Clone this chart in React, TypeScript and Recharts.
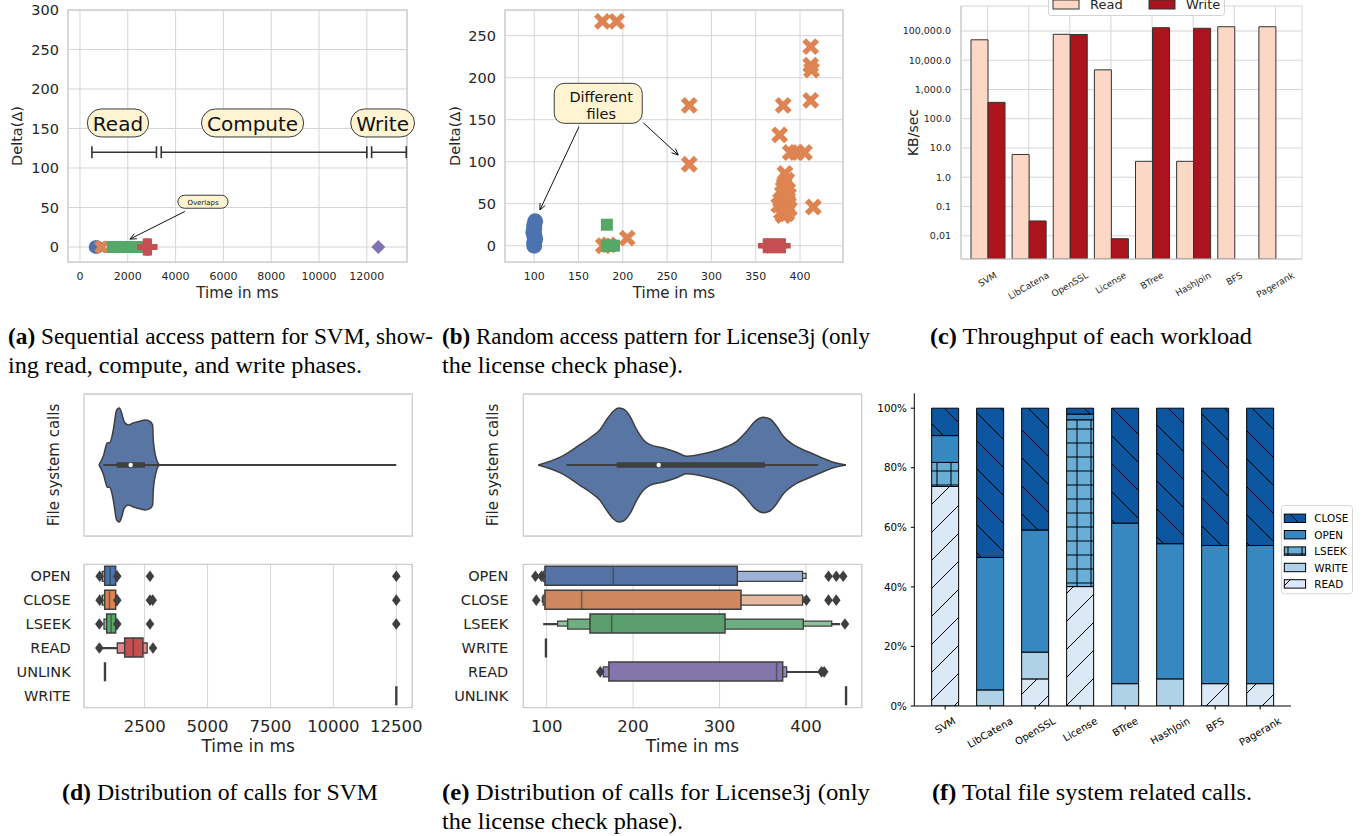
import React from "react";
import {
  ScatterChart,
  Scatter,
  ComposedChart,
  BarChart,
  Bar,
  Area,
  Cell,
  XAxis,
  YAxis,
  CartesianGrid,
  ReferenceLine,
  ReferenceDot,
  ReferenceArea,
  Legend,
} from "recharts";

const FONT = "DejaVu Sans";
const SERIF = "Liberation Serif";
const INK = "#262626";
const GRID = "#d5d5d5";
const SPINE = "#cccccc";
const EDGE = "#3f3f3f";
const NOTE_FILL = "#fff4d2";

const BLUE = "#4c72b0";
const ORANGE = "#dd8452";
const GREEN = "#55a868";
const RED = "#c44e52";
const PURPLE = "#8172b3";
const VIOLIN = "#5875a4";

// (a) sequential access, SVM  [time ms, delta]
const svmOpenPts = [[650, 0], [715, 0]];
const svmClosePts = [[860, 0], [935, 0]];
const svmLseekPts = [[1370, 0], [1500, 0], [1650, 0], [1800, 0], [1950, 0], [2100, 0], [2250, 0], [2400, 0]];
const svmReadPts = [[2750, 0], [2820, 0], [2890, 0]];
const svmWritePts = [[12480, 0]];
const svmTimeTicks = [0, 2000, 4000, 6000, 8000, 10000, 12000];
const svmDeltaTicks = [0, 50, 100, 150, 200, 250, 300];
const svmPhaseNames = ["Read", "Compute", "Write"];
const svmPhaseStart = [500, 3400, 12200];
const svmPhaseEnd = [3200, 12000, 13650];
const svmPhaseLabelAt = [1590, 7220, 12660];

// (b) random access, License3j
const licOpenPts = [[100, 0], [100, 4], [101, 8], [100, 12], [99, 16], [100, 20], [100, 24], [101, 29]];
const licClosePts = [
  [177, 267], [193, 267], [178, 0], [184, 1], [205, 9], [275, 167], [275, 97],
  [381, 167], [377, 132], [389, 111], [396, 111], [405, 111], [412, 237], [412, 215],
  [413, 209], [412, 173], [415, 46], [383, 86], [385, 78], [382, 72], [386, 66],
  [380, 62], [384, 58], [378, 54], [386, 52], [376, 48], [383, 46], [388, 44],
  [379, 40], [385, 38], [381, 36], [387, 60], [381, 68],
];
const licLseekPts = [[182, 25], [182, 0], [186, 0], [190, 0]];
const licReadPts = [[361, 0], [365, 0], [369, 0], [373, 0], [377, 0], [381, 0]];
const licTimeTicks = [100, 150, 200, 250, 300, 350, 400];
const licDeltaTicks = [0, 50, 100, 150, 200, 250];

// (c) throughput
const workloads = ["SVM", "LibCatena", "OpenSSL", "License", "BTree", "HashJoin", "BFS", "Pagerank"];
const readKBs = [50000, 6.0, 77000, 4700, 3.5, 3.5, 140000, 140000];
const writeKBs = [363, 0.032, 76000, 0.0079, 130000, 124000, null, null];
const kbTicks = [0.01, 0.1, 1, 10, 100, 1000, 10000, 100000];
const kbTickLabels = ["0,01", "0.1", "1.0", "10.0", "100.0", "1,000.0", "10,000.0", "100,000.0"];

// (d) SVM call distribution
const svmViolin = [
  [684, 0], [855, 8.7], [1014, 22], [1121, 22.7], [1253, 35], [1387, 55], [1491, 57],
  [1586, 52], [1678, 43.7], [1848, 40], [2047, 42], [2313, 43.7], [2512, 45],
  [2711, 43.7], [2817, 40], [2842, 25], [2977, 5], [3080, 0],
];
const svmIqr = [1387, 2512];
const svmRange = [855, 12500];
const svmMedian = 1944;
const svmCalls = ["OPEN", "CLOSE", "LSEEK", "READ", "UNLINK", "WRITE"];
const svmMain = [[911, 1348], [911, 1348], [990, 1348], [1705, 2432], null, null];
const svmOuter = [[816, 1400], [816, 1400], [883, 1400], [1411, 2600], null, null];
const svmWhisk = [null, null, null, [700, 1411], null, null];
const svmMedians = [1130, 1100, 1170, 2047, null, null];
const svmSingles = [null, null, null, null, 923, 12500];
const svmFliers = [[712, 1411, 2711, 12500], [712, 1411, 2711, 2820, 12500], [700, 1411, 2711, 12500], [700, 2830], [], []];
const svmCallTicks = [2500, 5000, 7500, 10000, 12500];

// (e) License3j call distribution
const licViolin = [
  [90.3, 0], [119.3, 9.3], [138.5, 20.3], [150.1, 27], [161.7, 35.3], [169.4, 45.3],
  [177.1, 53.7], [182.9, 57], [188.7, 56], [196.4, 48.7], [204.1, 35.3], [211.8, 25.3],
  [219.5, 20.3], [234.9, 17], [250.4, 12.7], [261.9, 8.7], [285.1, 12], [304.3, 17],
  [319.8, 23.7], [331.3, 33.7], [341, 43.7], [350.6, 47.7], [358.3, 46], [366, 38.7],
  [373.8, 28.7], [385.3, 20.3], [400.8, 13.7], [416.2, 8], [431.6, 2.7], [446.3, 0],
];
const licIqr = [181, 352.5];
const licRange = [123, 414];
const licMedian = 229.6;
const licCalls = ["OPEN", "CLOSE", "LSEEK", "WRITE", "READ", "UNLINK"];
const licMain = [[98, 320.5], [98, 324.8], [150.1, 306.3], null, [172, 373], null];
const licOuter = [[96, 396], [96, 396], [124.3, 396.9], null, [165.5, 377.6], null];
const licOuter2 = [[95, 400], [95, 399], [112.7, 429.7], null, null, null];
const licWhisk = [null, null, [96, 439.3], null, [377.6, 418], null];
const licMedians = [177, 140.5, 175.2, null, 366, null];
const licSingles = [null, null, null, 99.2, null, 446.3];
const licFliers = [[87, 94, 426, 435, 443], [88, 400.5, 426, 435], [445], [], [162, 418, 421], []];
const licCallTicks = [100, 200, 300, 400];

// (f) share of file system calls (%)
const fsRead = [73.7, 0, 9.1, 40.1, 0, 0, 7.5, 7.5];
const fsWrite = [0, 5.4, 9.0, 0, 7.5, 9.1, 0, 0];
const fsLseek = [8.1, 0, 0, 56.0, 0, 0, 0, 0];
const fsOpen = [9.0, 44.5, 41.0, 1.9, 53.9, 45.4, 46.4, 46.4];
const fsClose = [9.2, 50.1, 40.9, 2.0, 38.6, 45.5, 46.1, 46.1];
const pctTicks = [0, 20, 40, 60, 80, 100];

const toPts = (pairs: number[][]) => pairs.map(([t, d]) => ({ t, d }));

let measureCtx: any = null;
function textWidth(s: string, size: number, family = FONT) {
  if (!measureCtx && typeof document !== "undefined") {
    measureCtx = document.createElement("canvas").getContext("2d");
  }
  if (!measureCtx) return s.length * size * 0.6;
  measureCtx.font = `${size}px "${family}"`;
  return measureCtx.measureText(s).width;
}

// marker shapes
const dotShape = (r: number, fill: string) => (p: any) => <circle cx={p.cx} cy={p.cy} r={r} fill={fill} />;
const xShape = (h: number, w: number, color: string) => (p: any) => (
  <path
    d={`M${p.cx - h},${p.cy - h}L${p.cx + h},${p.cy + h}M${p.cx - h},${p.cy + h}L${p.cx + h},${p.cy - h}`}
    stroke={color}
    strokeWidth={w}
    fill="none"
  />
);
const squareShape = (s: number, fill: string) => (p: any) => (
  <rect x={p.cx - s / 2} y={p.cy - s / 2} width={s} height={s} fill={fill} />
);
const plusShape = (h: number, w: number, color: string) => (p: any) => (
  <path d={`M${p.cx - h},${p.cy}L${p.cx + h},${p.cy}M${p.cx},${p.cy - h}L${p.cx},${p.cy + h}`} stroke={color} strokeWidth={w} />
);
const diamondShape = (hw: number, hh: number, fill: string) => (p: any) => (
  <polygon points={`${p.cx},${p.cy - hh} ${p.cx + hw},${p.cy} ${p.cx},${p.cy + hh} ${p.cx - hw},${p.cy}`} fill={fill} />
);
const vlineShape = (h: number, w: number, color: string, opacity = 1) => (p: any) => (
  <line x1={p.cx} x2={p.cx} y1={p.cy - h / 2} y2={p.cy + h / 2} stroke={color} strokeWidth={w} strokeOpacity={opacity} />
);

// annotation shapes
const pillShape = (text: string, fs: number, h: number, pad: number) => (p: any) => {
  const w = textWidth(text, fs) + pad;
  return (
    <g>
      <rect x={p.cx - w / 2} y={p.cy - h / 2} width={w} height={h} rx={h / 2} ry={h / 2} fill={NOTE_FILL} stroke="#3a3a3a" strokeWidth={1} />
      <text x={p.cx} y={p.cy + 1} textAnchor="middle" dominantBaseline="central" fontSize={fs} fontFamily={FONT} fill="#111">
        {text}
      </text>
    </g>
  );
};
const noteShape = (lines: string[], fs: number, w: number, h: number) => (p: any) => (
  <g>
    <rect x={p.cx - w / 2} y={p.cy - h / 2} width={w} height={h} rx={10} ry={10} fill={NOTE_FILL} stroke="#3a3a3a" strokeWidth={1} />
    {lines.map((ln, i) => (
      <text
        key={ln}
        x={p.cx + 3}
        y={p.cy + 2 + (i - (lines.length - 1) / 2) * fs * 1.2}
        textAnchor="middle"
        dominantBaseline="central"
        fontSize={fs}
        fontFamily={FONT}
        fill="#111"
      >
        {ln}
      </text>
    ))}
  </g>
);
const bracketShape = (p: any) => {
  const { x1, y1, x2, y2 } = p;
  return (
    <g stroke="#333" strokeWidth={1.6}>
      <line x1={x1} y1={y1} x2={x2} y2={y2} />
      <line x1={x1} x2={x1} y1={y1 - 6} y2={y1 + 6} />
      <line x1={x2} x2={x2} y1={y2 - 6} y2={y2 + 6} />
    </g>
  );
};
const arrowShape = (p: any) => {
  const { x1, y1, x2, y2 } = p;
  const ang = Math.atan2(y2 - y1, x2 - x1);
  const L = 7;
  const s = 0.42;
  const ax = x2 - L * Math.cos(ang - s);
  const ay = y2 - L * Math.sin(ang - s);
  const bx = x2 - L * Math.cos(ang + s);
  const by = y2 - L * Math.sin(ang + s);
  return (
    <g stroke="#111" strokeWidth={1} fill="none">
      <line x1={x1} y1={y1} x2={x2} y2={y2} />
      <path d={`M${ax},${ay}L${x2},${y2}L${bx},${by}`} />
    </g>
  );
};

const xTitle = (text: string, dy: number, fs: number) => (p: any) => {
  const vb = p.viewBox || { x: 0, y: 0, width: 0, height: 0 };
  return (
    <text x={vb.x + vb.width / 2} y={vb.y + dy} textAnchor="middle" dominantBaseline="central" fontSize={fs} fontFamily={FONT} fill={INK}>
      {text}
    </text>
  );
};
const yTitle = (text: string, dx: number, fs: number) => (p: any) => {
  const vb = p.viewBox || { x: 0, y: 0, width: 0, height: 0 };
  const cx = vb.x + dx;
  const cy = vb.y + vb.height / 2;
  return (
    <text x={cx} y={cy} transform={`rotate(-90 ${cx} ${cy})`} textAnchor="middle" dominantBaseline="central" fontSize={fs} fontFamily={FONT} fill={INK}>
      {text}
    </text>
  );
};
const slantTick = (fs: number, color: string) => (p: any) => {
  const label = String(p.payload?.value ?? "");
  const w = textWidth(label, fs);
  const a = Math.PI / 6;
  const bh = w * Math.sin(a) + fs * 1.15 * Math.cos(a);
  const cx = p.x;
  const cy = p.y + bh / 2;
  return (
    <text x={cx} y={cy} transform={`rotate(-30 ${cx} ${cy})`} textAnchor="middle" dominantBaseline="central" fontSize={fs} fontFamily={FONT} fill={color}>
      {label}
    </text>
  );
};

const tickStyle = (fs: number, fill = INK) => ({ fontSize: fs, fill, fontFamily: FONT });

function PanelA() {
  return (
    <ScatterChart width={420} height={312} margin={{ top: 10, right: 13, bottom: 0, left: 0 }}>
      <CartesianGrid stroke={GRID} />
      <XAxis type="number" dataKey="t" domain={[-500, 13680]} allowDataOverflow ticks={svmTimeTicks} tick={tickStyle(11)} tickLine={false} axisLine={false} tickMargin={4} height={50} label={xTitle("Time in ms", 31, 15)} />
      <YAxis type="number" dataKey="d" domain={[-19, 300]} allowDataOverflow ticks={svmDeltaTicks} tick={tickStyle(14.5)} tickLine={false} axisLine={false} tickMargin={3} width={68} label={yTitle("Delta(Δ)", 17, 14.5)} />
      <ReferenceArea x1={-500} x2={13680} y1={-19} y2={300} fill="none" fillOpacity={0} stroke={SPINE} strokeWidth={1.25} ifOverflow="visible" />
      <Scatter data={toPts(svmOpenPts)} shape={dotShape(6.8, BLUE)} isAnimationActive={false} />
      <Scatter data={toPts(svmClosePts)} shape={xShape(5, 4, ORANGE)} isAnimationActive={false} />
      <Scatter data={toPts(svmLseekPts)} shape={squareShape(12, GREEN)} isAnimationActive={false} />
      <Scatter data={toPts(svmReadPts)} shape={plusShape(8.5, 6, RED)} isAnimationActive={false} />
      <Scatter data={toPts(svmWritePts)} shape={diamondShape(7, 7, PURPLE)} isAnimationActive={false} />
      {svmPhaseNames.map((n, i) => (
        <ReferenceLine key={`b${n}`} segment={[{ x: svmPhaseStart[i], y: 120 }, { x: svmPhaseEnd[i], y: 120 }]} shape={bracketShape} />
      ))}
      {svmPhaseNames.map((n, i) => (
        <ReferenceDot key={`l${n}`} x={svmPhaseLabelAt[i]} y={157} r={1} shape={pillShape(n, 20, 28, 11)} />
      ))}
      <ReferenceLine segment={[{ x: 4390, y: 45 }, { x: 2090, y: 10 }]} shape={arrowShape} />
      <ReferenceDot x={5146} y={57.3} r={1} shape={pillShape("Overlaps", 7, 13, 19)} />
    </ScatterChart>
  );
}

function PanelB() {
  return (
    <ScatterChart width={430} height={312} margin={{ top: 10, right: 17, bottom: 0, left: 0 }}>
      <CartesianGrid stroke={GRID} />
      <XAxis type="number" dataKey="t" domain={[67, 448.5]} allowDataOverflow ticks={licTimeTicks} tick={tickStyle(11)} tickLine={false} axisLine={false} tickMargin={4} height={50} label={xTitle("Time in ms", 31, 15)} />
      <YAxis type="number" dataKey="d" domain={[-19.4, 280.6]} allowDataOverflow ticks={licDeltaTicks} tick={tickStyle(14.5)} tickLine={false} axisLine={false} tickMargin={3} width={75} label={yTitle("Delta(Δ)", 25, 14.5)} />
      <ReferenceArea x1={67} x2={448.5} y1={-19.4} y2={280.6} fill="none" fillOpacity={0} stroke={SPINE} strokeWidth={1.25} ifOverflow="visible" />
      <Scatter data={toPts(licOpenPts)} shape={dotShape(8, BLUE)} isAnimationActive={false} />
      <Scatter data={toPts(licClosePts)} shape={xShape(6.5, 5.5, ORANGE)} isAnimationActive={false} />
      <Scatter data={toPts(licLseekPts)} shape={squareShape(12, GREEN)} isAnimationActive={false} />
      <Scatter data={toPts(licReadPts)} shape={plusShape(7.5, 5.5, RED)} isAnimationActive={false} />
      <ReferenceLine segment={[{ x: 150.5, y: 141.7 }, { x: 106.4, y: 42.5 }]} shape={arrowShape} />
      <ReferenceLine segment={[{ x: 223, y: 146.4 }, { x: 262.5, y: 108 }]} shape={arrowShape} />
      <ReferenceDot x={172.2} y={169.5} r={1} shape={noteShape(["Different", "files"], 14.5, 88, 40)} />
    </ScatterChart>
  );
}

const throughputLegend = () => (
  <svg width={177} height={28} style={{ display: "block", overflow: "visible" }}>
    <rect x={0.5} y={0.5} width={176} height={27} rx={3} fill="#fff" stroke="#d3d3d3" />
    <rect x={5} y={12} width={26} height={9} fill="#fdd7c6" stroke="#333" />
    <text x={42} y={21.3} fontSize={13} fontFamily={FONT} fill={INK}>Read</text>
    <rect x={101} y={12} width={26} height={9} fill="#ab141c" stroke="#333" />
    <text x={138} y={21.3} fontSize={13} fontFamily={FONT} fill={INK}>Write</text>
  </svg>
);

function PanelC() {
  const rows = workloads.map((w, i) => ({ name: w, read: readKBs[i], write: writeKBs[i] }));
  return (
    <BarChart width={450} height={310} data={rows} margin={{ top: 6, right: 18, bottom: 0, left: 0 }} barCategoryGap={4} barGap={0}>
      <CartesianGrid stroke={GRID} />
      <XAxis dataKey="name" padding={{ left: 6, right: 6 }} interval={0} height={51} tickLine={false} axisLine={{ stroke: SPINE, strokeWidth: 1.25 }} tickSize={6} tickMargin={5} tick={slantTick(9, INK)} />
      <XAxis xAxisId="top" orientation="top" type="number" domain={[0, 1]} height={0} tick={false} tickLine={false} axisLine={{ stroke: SPINE, strokeWidth: 1.25 }} />
      <YAxis scale="log" domain={[0.0016, 716000]} allowDataOverflow ticks={kbTicks} tickFormatter={(v: number) => kbTickLabels[kbTicks.indexOf(v)] ?? String(v)} tick={tickStyle(9.5)} tickLine={false} axisLine={{ stroke: SPINE, strokeWidth: 1.25 }} tickMargin={4} width={91} label={yTitle("KB/sec", 42.7, 14)} />
      <YAxis yAxisId="right" orientation="right" domain={[0, 1]} width={0} tick={false} tickLine={false} axisLine={{ stroke: SPINE, strokeWidth: 1.25 }} />
      <Bar dataKey="read" name="Read" fill="#fdd7c6" stroke="#333" strokeWidth={1} isAnimationActive={false} />
      <Bar dataKey="write" name="Write" fill="#ab141c" stroke="#333" strokeWidth={1} isAnimationActive={false} />
      <Legend layout="vertical" align="center" verticalAlign="middle" wrapperStyle={{ left: 178, top: -12, width: 177, height: 28 }} content={throughputLegend} />
    </BarChart>
  );
}

function ViolinPanel(props: any) {
  const { data, domain, iqr, range, median, width, yAxisWidth, rightMargin, titleX } = props;
  const rows = data.map(([t, w]: number[]) => ({ t, w }));
  return (
    <ComposedChart width={width} height={160} data={rows} margin={{ top: 14, right: rightMargin, bottom: 4, left: 0 }}>
      <CartesianGrid vertical={false} stroke={GRID} />
      <XAxis type="number" dataKey="t" domain={domain} allowDataOverflow hide />
      <YAxis type="number" domain={[-71, 71]} allowDataOverflow ticks={[0]} tick={false} tickLine={false} axisLine={false} width={yAxisWidth} label={yTitle("File system calls", titleX, 15)} />
      <ReferenceArea x1={domain[0]} x2={domain[1]} y1={-71} y2={71} fill="none" fillOpacity={0} stroke={SPINE} strokeWidth={1.25} ifOverflow="visible" />
      <Area type="monotone" dataKey={(r: any) => [-r.w, r.w]} fill={VIOLIN} fillOpacity={1} stroke={EDGE} strokeWidth={1.5} dot={false} activeDot={false} isAnimationActive={false} />
      <ReferenceLine segment={[{ x: range[0], y: 0 }, { x: range[1], y: 0 }]} stroke={EDGE} strokeWidth={2} />
      <ReferenceLine segment={[{ x: iqr[0], y: 0 }, { x: iqr[1], y: 0 }]} stroke={EDGE} strokeWidth={5.5} />
      <ReferenceDot x={median} y={0} r={2.2} fill="#fff" stroke="none" />
    </ComposedChart>
  );
}

function BoxenPanel(props: any) {
  const { calls, main, outer, outer2, whisk, medians, singles, fliers, colors, domain, ticks, width, yAxisWidth, rightMargin, labelMargin } = props;
  const rows = calls.map((c: string, i: number) => ({
    call: c,
    main: main[i],
    outer: outer[i],
    outer2: outer2 ? outer2[i] : null,
    whisk: whisk[i],
  }));
  const medianPts = medians.flatMap((m: number | null, i: number) => (m == null ? [] : [{ t: m, row: i }]));
  const singlePts = singles.flatMap((m: number | null, i: number) => (m == null ? [] : [{ t: m, row: i }]));
  const flierPts = fliers.flatMap((list: number[], i: number) => list.map((t) => ({ t, row: i })));
  return (
    <ComposedChart layout="vertical" width={width} height={220} data={rows} margin={{ top: 24.3, right: rightMargin, bottom: 0, left: 0 }}>
      <CartesianGrid horizontal={false} stroke={GRID} yAxisId="l1" />
      <XAxis type="number" domain={domain} allowDataOverflow ticks={ticks} tick={tickStyle(16.5)} tickLine={false} axisLine={false} tickMargin={6.3} height={52.3} label={xTitle("Time in ms", 38, 17)} />
      <YAxis yAxisId="l1" type="category" dataKey="call" interval={0} width={yAxisWidth} tick={tickStyle(14.5)} tickLine={false} axisLine={false} tickMargin={labelMargin} />
      <YAxis yAxisId="l2" type="category" dataKey="call" hide />
      <YAxis yAxisId="l3" type="category" dataKey="call" hide />
      <YAxis yAxisId="lw" type="category" dataKey="call" hide />
      <YAxis yAxisId="num" type="number" dataKey="row" domain={[-0.5, 5.5]} allowDataOverflow hide />
      <ReferenceArea yAxisId="num" x1={domain[0]} x2={domain[1]} y1={-0.5} y2={5.5} fill="none" fillOpacity={0} stroke={SPINE} strokeWidth={1.25} ifOverflow="visible" />
      <Bar yAxisId="lw" dataKey="whisk" barSize={2.2} fill={EDGE} isAnimationActive={false} />
      <Bar yAxisId="l3" dataKey="outer2" barSize={5} stroke={EDGE} strokeWidth={1.3} isAnimationActive={false}>
        {rows.map((r: any, i: number) => <Cell key={r.call} fill={colors.outer2[i]} />)}
      </Bar>
      <Bar yAxisId="l2" dataKey="outer" barSize={10} stroke={EDGE} strokeWidth={1.3} isAnimationActive={false}>
        {rows.map((r: any, i: number) => <Cell key={r.call} fill={colors.outer[i]} />)}
      </Bar>
      <Bar yAxisId="l1" dataKey="main" barSize={19} stroke={EDGE} strokeWidth={1.5} isAnimationActive={false}>
        {rows.map((r: any, i: number) => <Cell key={r.call} fill={colors.main[i]} />)}
      </Bar>
      <Scatter yAxisId="num" data={medianPts} dataKey="t" shape={vlineShape(18, 1.6, "#333", 0.55)} isAnimationActive={false} />
      <Scatter yAxisId="num" data={singlePts} dataKey="t" shape={vlineShape(19, 2.4, EDGE)} isAnimationActive={false} />
      <Scatter yAxisId="num" data={flierPts} dataKey="t" shape={diamondShape(4.3, 5.8, EDGE)} isAnimationActive={false} />
    </ComposedChart>
  );
}

const svmColors = {
  main: [BLUE, ORANGE, GREEN, RED, PURPLE, PURPLE],
  outer: ["#8fa8d1", "#eaae8d", "#8fc79d", "#dc8a8c", PURPLE, PURPLE],
  outer2: ["#c8d4e8", "#f4d6c5", "#c6e3cd", "#eec4c5", PURPLE, PURPLE],
};
const licColors = {
  main: ["#5572a7", "#cf8760", "#5c9f6f", "#999", "#8476ad", "#999"],
  outer: ["#9eb2d5", "#e7b8a0", "#6fae80", "#999", "#9486bd", "#999"],
  outer2: ["#c8d4e9", "#f2d6c7", "#8dc39c", "#999", "#c0b8da", "#999"],
};

const callKeys = ["READ", "WRITE", "LSEEK", "OPEN", "CLOSE"];
const callFills: Record<string, string> = {
  READ: "url(#hatchRead)",
  WRITE: "#b0d2e8",
  LSEEK: "url(#hatchLseek)",
  OPEN: "#3787c0",
  CLOSE: "url(#hatchClose)",
};

const callsLegend = () => (
  <svg width={72} height={90} style={{ display: "block" }}>
    <rect x={0.5} y={0.5} width={71} height={88.3} rx={3} fill="#fff" stroke="#d6d6d6" />
    {[...callKeys].reverse().map((k, i) => {
      const cy = 13.3 + i * 16.4;
      return (
        <g key={k}>
          <rect x={3.3} y={cy - 4.2} width={21.3} height={8.4} fill={callFills[k]} stroke="#000" strokeWidth={1} />
          <text x={33.3} y={cy} dominantBaseline="central" fontSize={10.4} fontFamily={FONT} fill="#000">{k}</text>
        </g>
      );
    })}
  </svg>
);

function PanelF() {
  const rows = workloads.map((w, i) => ({
    name: w,
    READ: fsRead[i],
    WRITE: fsWrite[i],
    LSEEK: fsLseek[i],
    OPEN: fsOpen[i],
    CLOSE: fsClose[i],
  }));
  return (
    <BarChart width={502} height={380} data={rows} margin={{ top: 13.3, right: 71, bottom: 0, left: 0 }} barCategoryGap="20%">
      <XAxis dataKey="name" padding={{ left: 8.35, right: 8.35 }} interval={0} height={54} tickSize={3.5} tickMargin={5.5} tickLine={{ stroke: "#000" }} axisLine={{ stroke: "#000" }} tick={slantTick(10, "#000")} />
      <XAxis xAxisId="top" orientation="top" type="number" domain={[0, 1]} height={0} tick={false} tickLine={false} axisLine={{ stroke: "#000" }} />
      <YAxis domain={[0, 105]} allowDataOverflow ticks={pctTicks} tickFormatter={(v: number) => `${v}%`} width={54.3} tickSize={3.5} tickMargin={4} tickLine={{ stroke: "#000" }} axisLine={{ stroke: "#000" }} tick={tickStyle(10.3, "#000")} />
      <YAxis yAxisId="right" orientation="right" domain={[0, 1]} width={0} tick={false} tickLine={false} axisLine={{ stroke: "#000" }} />
      {callKeys.map((k) => (
        <Bar key={k} dataKey={k} stackId="calls" fill={callFills[k]} stroke="#000" strokeWidth={1} isAnimationActive={false} />
      ))}
      <Legend layout="vertical" align="center" verticalAlign="middle" wrapperStyle={{ left: 420.7, top: 125, width: 72, height: 90 }} content={callsLegend} />
    </BarChart>
  );
}

const captionLines = [
  { tag: "(a)", text: " Sequential access pattern for SVM, show-", x: 8, y: 344, w: 425 },
  { tag: "", text: "ing read, compute, and write phases.", x: 8, y: 373, w: 354 },
  { tag: "(b)", text: " Random access pattern for License3j (only", x: 442, y: 344, w: 428 },
  { tag: "", text: "the license check phase).", x: 442, y: 373, w: 241 },
  { tag: "(c)", text: " Throughput of each workload", x: 930, y: 344, w: 322 },
  { tag: "(d)", text: " Distribution of calls for SVM", x: 62, y: 800, w: 316 },
  { tag: "(e)", text: " Distribution of calls for License3j (only", x: 442, y: 800, w: 428 },
  { tag: "", text: "the license check phase).", x: 442, y: 829, w: 241 },
  { tag: "(f)", text: " Total file system related calls.", x: 932, y: 800, w: 320 },
];

function Captions() {
  return (
    <svg width={1362} height={836} style={{ position: "absolute", left: 0, top: 0 }}>
      {captionLines.map((c, i) => (
        <text key={i} x={c.x} y={c.y} fontSize={23} fontFamily={SERIF} fill="#000" textLength={c.w} lengthAdjust="spacingAndGlyphs" xmlSpace="preserve">
          {c.tag ? <tspan fontWeight="bold">{c.tag}</tspan> : null}
          {c.text}
        </text>
      ))}
    </svg>
  );
}

function Patterns() {
  return (
    <svg width={0} height={0} style={{ position: "absolute" }}>
      <defs>
        <pattern id="hatchRead" patternUnits="userSpaceOnUse" width={28} height={28}>
          <rect width={28} height={28} fill="#dbe8f5" />
          <path d="M0,28 L28,0 M-7,7 L7,-7 M21,35 L35,21" stroke="#000" strokeWidth={1} />
        </pattern>
        <pattern id="hatchClose" patternUnits="userSpaceOnUse" width={28} height={28}>
          <rect width={28} height={28} fill="#0c56a0" />
          <path d="M0,0 L28,28 M-7,21 L7,35 M21,-7 L35,7" stroke="#000" strokeWidth={1} />
        </pattern>
        <pattern id="hatchLseek" patternUnits="userSpaceOnUse" width={14} height={14}>
          <rect width={14} height={14} fill="#6aaed6" />
          <path d="M7,0 L7,14 M0,7 L14,7" stroke="#000" strokeWidth={1} />
        </pattern>
      </defs>
    </svg>
  );
}

const at = (left: number, top: number) => ({ position: "absolute" as const, left, top });

export default function App() {
  return (
    <div style={{ position: "absolute", left: 0, top: 0, width: 1362, height: 836, background: "#fff", overflow: "hidden", fontFamily: FONT }}>
      <Patterns />
      <Captions />
      <div style={at(0, 0)}>
        <PanelA />
      </div>
      <div style={at(430, 0)}>
        <PanelB />
      </div>
      <div style={at(870, 0)}>
        <PanelC />
      </div>
      <div style={at(0, 380)}>
        <ViolinPanel data={svmViolin} domain={[89, 13136]} iqr={svmIqr} range={svmRange} median={svmMedian} width={430} yAxisWidth={84} rightMargin={17.7} titleX={54} />
      </div>
      <div style={at(0, 540)}>
        <BoxenPanel calls={svmCalls} main={svmMain} outer={svmOuter} outer2={null} whisk={svmWhisk} medians={svmMedians} singles={svmSingles} fliers={svmFliers} colors={svmColors} domain={[89, 13136]} ticks={svmCallTicks} width={430} yAxisWidth={84} rightMargin={17.7} labelMargin={7.3} />
      </div>
      <div style={at(430, 380)}>
        <ViolinPanel data={licViolin} domain={[73, 464.4]} iqr={licIqr} range={licRange} median={licMedian} width={440} yAxisWidth={93.3} rightMargin={8.3} titleX={63} />
      </div>
      <div style={at(430, 540)}>
        <BoxenPanel calls={licCalls} main={licMain} outer={licOuter} outer2={licOuter2} whisk={licWhisk} medians={licMedians} singles={licSingles} fliers={licFliers} colors={licColors} domain={[73, 464.4]} ticks={licCallTicks} width={440} yAxisWidth={93.3} rightMargin={8.3} labelMargin={9} />
      </div>
      <div style={at(860, 380)}>
        <PanelF />
      </div>
    </div>
  );
}
